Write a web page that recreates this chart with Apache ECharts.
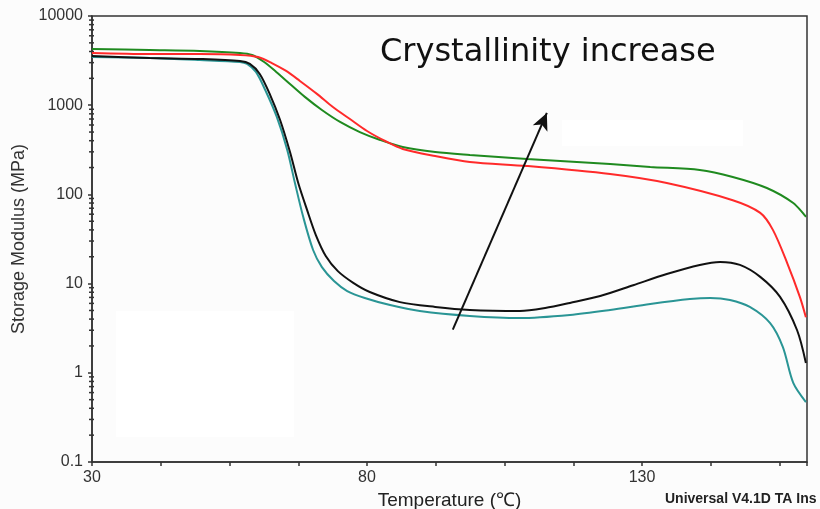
<!DOCTYPE html>
<html>
<head>
    <meta charset="utf-8">
    <title>Storage Modulus</title>
    <script src="https://cdn.jsdelivr.net/npm/echarts@6/dist/echarts.min.js"></script>
    <style>
        html, body { margin: 0; padding: 0; background: #fcfcfc; }
    </style>
</head>
<body>
    <div id="main" style="width: 820px;height:509px;"></div>
    <script type="text/javascript">
        // temperature (C) / storage modulus (MPa)
        var greenData = [[30, 4270], [40.5, 4160], [49.6, 4060], [56.9, 3850], [59.1, 3650], [61.3, 3050],
            [63.5, 2360], [66, 1730], [68.7, 1240], [71.8, 883], [75.1, 649], [78.7, 500], [82.4, 407],
            [86.5, 340], [92.4, 299], [98.7, 277], [109.1, 249], [124.2, 219], [131.5, 203], [140.5, 188],
            [146.5, 157], [152.7, 118], [157.5, 80], [159.8, 56]];
        var redData = [[30, 3850], [40.5, 3750], [49.6, 3750], [56.9, 3660], [60.2, 3470], [62.7, 2970],
            [65.3, 2420], [67.8, 1870], [70.9, 1340], [73.8, 955], [76.9, 700], [80, 514], [83.3, 397],
            [86.5, 323], [92.4, 269], [98.7, 231], [109.1, 208], [124.2, 169], [134.5, 134], [146.5, 86],
            [151.5, 62], [153.8, 40], [156.4, 17], [158.7, 7.1], [159.8, 4.2]];
        var blackData = [[30, 3560], [40.5, 3380], [49.6, 3300], [56.9, 3130], [58.7, 2900], [60.5, 2240],
            [62.4, 1300], [64.2, 682], [66, 299], [67.5, 134], [69.1, 67], [70.7, 35], [72.5, 20.4],
            [74.7, 13.8], [77.5, 10.2], [80.5, 8.05], [86, 6.2], [92.4, 5.47], [98.7, 5.06], [107.8, 4.93],
            [112.4, 5.32], [116.9, 6.07], [122.4, 7.26], [128.4, 9.6], [134.5, 12.8], [140.5, 16.2],
            [144.2, 17.5], [147.8, 16.2], [151.5, 11.9], [155.1, 7.1], [158.2, 3.0], [159.8, 1.29]];
        var tealData = [[30, 3470], [40.5, 3380], [49.6, 3210], [56.9, 3050], [58.2, 2900], [59.8, 2360],
            [61.5, 1480], [63.6, 738], [65.5, 315], [66.9, 134], [68.4, 56], [70.2, 23.8], [71.8, 15.3],
            [74, 10.7], [76.4, 8.26], [79.6, 6.9], [84.2, 5.75], [89.6, 4.93], [98.7, 4.34], [107.8, 4.11],
            [116.9, 4.45], [124.2, 5.06], [131.5, 5.9], [138.7, 6.7], [142.4, 6.9], [146, 6.55],
            [149.6, 5.47], [153.3, 3.6], [155.6, 1.95], [157.5, 0.77], [159.8, 0.47]];
        var arrowFrom = [95.6, 3.05];
        var arrowTo = [112.7, 820];
        var xStart = 30;
        var xEnd = 160;
        var xLabels = [30, 80, 130];
        var yMinorTicks = [];
        for (var e = -1; e < 4; e++) {
            for (var m = 2; m < 10; m++) yMinorTicks.push(m * Math.pow(10, e));
        }

        // x axis runs from 0, so the 12.5 ticks line up with 30
        function shift(arr) {
            return arr.map(function (p) { return [p[0] - xStart, p[1]]; });
        }

        var myChart = echarts.init(document.getElementById('main'));

        var lineBase = {
            type: 'line',
            smooth: 0.3,
            showSymbol: false,
            symbol: 'none',
            silent: true
        };

        var option = {
            backgroundColor: '#fcfcfc',
            animation: false,
            textStyle: { fontFamily: 'Liberation Sans, Arial, sans-serif' },
            grid: {
                left: 92, top: 16, right: 13, bottom: 47,
                outerBoundsMode: 'none',
                containLabel: false,
                show: true, borderColor: '#333', borderWidth: 1.5
            },
            xAxis: {
                type: 'value',
                min: 0,
                max: xEnd - xStart,
                interval: 12.5,
                name: 'Temperature (\u2103)',
                nameLocation: 'middle',
                nameGap: 22,
                nameTextStyle: { fontSize: 19, color: '#222' },
                axisLine: { lineStyle: { color: '#333', width: 1.5 } },
                axisTick: { length: 4, lineStyle: { color: '#333', width: 1.5 } },
                axisLabel: {
                    fontSize: 16, color: '#333', margin: 8,
                    formatter: function (v) {
                        return xLabels.indexOf(v + xStart) >= 0 ? String(v + xStart) : '';
                    }
                },
                splitLine: { show: false }
            },
            yAxis: {
                type: 'log',
                logBase: 10,
                min: 0.1,
                max: 10000,
                name: 'Storage Modulus (MPa)',
                nameLocation: 'middle',
                nameGap: 63,
                nameTextStyle: { fontSize: 18, color: '#333' },
                axisLine: { lineStyle: { color: '#333', width: 1.5 } },
                axisTick: { length: 4, lineStyle: { color: '#333', width: 1.5 } },
                axisLabel: {
                    fontSize: 16, color: '#333', margin: 9,
                    formatter: function (v) { return String(v); }
                },
                splitLine: { show: false }
            },
            series: [
                Object.assign({}, lineBase, {
                    name: 'green', data: shift(greenData),
                    lineStyle: { color: '#1f8a1f', width: 2 }
                }),
                Object.assign({}, lineBase, {
                    name: 'red', data: shift(redData),
                    lineStyle: { color: '#ff2a2a', width: 2 }
                }),
                Object.assign({}, lineBase, {
                    name: 'teal', data: shift(tealData),
                    lineStyle: { color: '#2a9595', width: 2 }
                }),
                Object.assign({}, lineBase, {
                    name: 'black', data: shift(blackData),
                    lineStyle: { color: '#111', width: 2 },
                    markLine: {
                        silent: true,
                        symbol: ['none', 'arrow'],
                        symbolSize: [12, 17],
                        label: { show: false },
                        lineStyle: { color: '#111', width: 2, type: 'solid' },
                        data: [[
                            { coord: [arrowFrom[0] - xStart, arrowFrom[1]] },
                            { coord: [arrowTo[0] - xStart, arrowTo[1]] }
                        ]]
                    }
                }),
                {
                    // log minor ticks on the y axis
                    type: 'custom',
                    silent: true,
                    clip: false,
                    data: yMinorTicks.map(function (v) { return [0, v]; }),
                    renderItem: function (params, api) {
                        var p = api.coord([0, api.value(1)]);
                        return {
                            type: 'line',
                            shape: { x1: p[0] - 3, y1: p[1], x2: p[0] + 2, y2: p[1] },
                            style: { stroke: '#333', lineWidth: 1.5 }
                        };
                    }
                }
            ],
            graphic: [
                {
                    type: 'rect', left: 116, top: 311, silent: true,
                    shape: { width: 178, height: 126 },
                    style: { fill: '#ffffff' }
                },
                {
                    type: 'rect', left: 562, top: 120, silent: true,
                    shape: { width: 181, height: 26 },
                    style: { fill: '#ffffff' }
                },
                {
                    type: 'text', left: 380, top: 37,
                    style: {
                        text: 'Crystallinity increase',
                        font: '32px "DejaVu Sans", Verdana, sans-serif',
                        fill: '#111'
                    }
                },
                {
                    type: 'text', left: 665, top: 492,
                    style: {
                        text: 'Universal V4.1D TA Ins',
                        font: 'bold 14px "Liberation Sans", Arial, sans-serif',
                        fill: '#222'
                    }
                }
            ]
        };

        myChart.setOption(option);
    </script>
</body>
</html>
